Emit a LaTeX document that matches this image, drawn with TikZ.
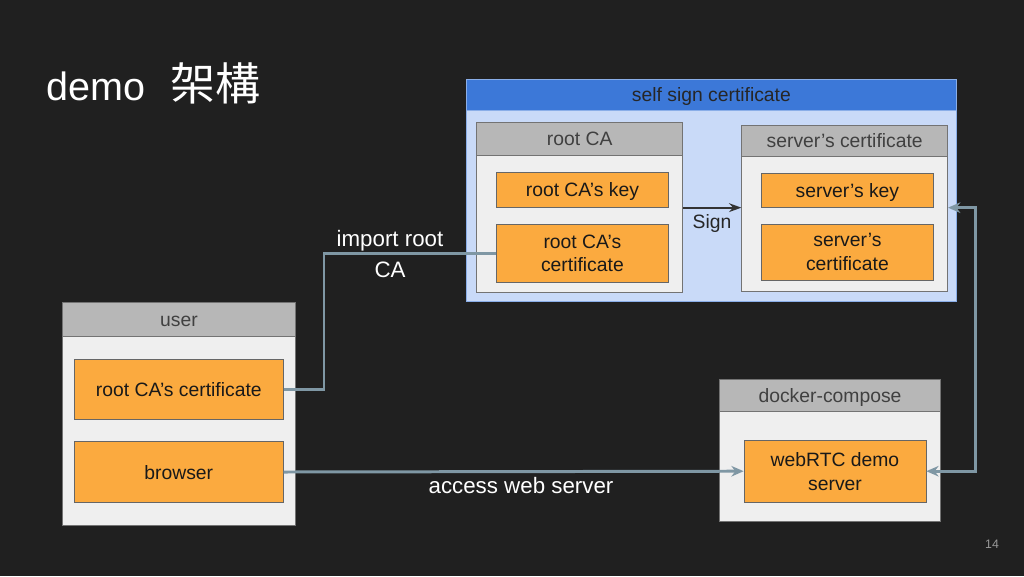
\documentclass[tikz,border=0pt]{standalone}
\usepackage{fontspec}
\setmainfont{Liberation Sans}
\newfontfamily\cjk{Noto Sans CJK TC}
\usetikzlibrary{arrows.meta}
\definecolor{bgdark}{HTML}{202020}
\definecolor{signblue}{HTML}{3C78D8}
\definecolor{signlight}{HTML}{C9DAF8}
\definecolor{headgray}{HTML}{B7B7B7}
\definecolor{panelgray}{HTML}{EFEFEF}
\definecolor{itemorange}{HTML}{FBAA3F}
\definecolor{linkgray}{HTML}{7F97A4}

\begin{document}
\begin{tikzpicture}[x=0.02cm, y=-0.02cm,
    panel/.style ={rectangle, draw=black!55, fill=panelgray, inner sep=0pt},
    heading/.style ={rectangle, draw=black!55, fill=headgray, text=black!75, font=\fontsize{11}{13}\selectfont, inner sep=0pt, oneline},
    item/.style ={rectangle, draw=black!60, fill=itemorange, text=black!90, align=center, font=\fontsize{11}{13.6}\selectfont, inner sep=0pt},
    oneline/.style ={text height=8pt, text depth=0pt},
    link/.style ={draw=linkgray, line width=1.7pt},
    caption/.style ={text=white, align=center, font=\fontsize{12.7}{17.6}\selectfont}]
   \fill[bgdark] (0,0) rectangle (1024,576);
   \useasboundingbox (0,0) rectangle (1024,576);

   \node[text=white, anchor=base west, inner sep=0pt, font=\fontsize{22.5}{26}\selectfont] (title) at (46,100.5) {demo\hspace{14.5pt}{\cjk\fontsize{25.6}{28}\selectfont 架構}};

   \node[panel, fill=signlight, draw=signblue!60, minimum width=9.81cm, minimum height=4.45cm] (selfsign) at (711.4,190.4) {};
   \node[heading, fill=signblue, draw=signblue!60, text=black!85, minimum width=9.81cm, minimum height=0.63cm] (selfsignhead) at (711.4,94.9) {self sign certificate};

   \node[panel, minimum width=4.12cm, minimum height=3.39cm] (rootca) at (579.7,207.5) {};
   \node[heading, minimum width=4.12cm, minimum height=0.65cm] (rootcahead) at (579.7,138.9) {root CA};
   \node[item, oneline, minimum width=3.45cm, minimum height=0.70cm] (rootkey) at (582.4,189.8) {root CA’s key};
   \node[item, minimum width=3.45cm, minimum height=1.16cm] (rootcert) at (582.4,253.3) {root CA’s\\certificate};

   \node[panel, minimum width=4.12cm, minimum height=3.32cm] (servercert) at (844.7,208) {};
   \node[heading, minimum width=4.12cm, minimum height=0.63cm] (servercerthead) at (844.7,140.9) {server’s certificate};
   \node[item, oneline, minimum width=3.45cm, minimum height=0.68cm] (serverkey) at (847.4,190.3) {server’s key};
   \node[item, minimum width=3.45cm, minimum height=1.13cm] (servercrt) at (847.4,252.2) {server’s\\certificate};

   \node[panel, minimum width=4.65cm, minimum height=4.45cm] (user) at (178.9,413.7) {};
   \node[heading, minimum width=4.65cm, minimum height=0.69cm] (userhead) at (178.9,319.5) {user};
   \node[item, oneline, minimum width=4.18cm, minimum height=1.21cm] (usercert) at (178.8,389.2) {root CA’s certificate};
   \node[item, oneline, minimum width=4.18cm, minimum height=1.21cm] (browser) at (178.8,472) {browser};

   \node[panel, minimum width=4.43cm, minimum height=2.85cm] (docker) at (830,450.4) {};
   \node[heading, minimum width=4.43cm, minimum height=0.65cm] (dockerhead) at (830,395.4) {docker-compose};
   \node[item, minimum width=3.64cm, minimum height=1.25cm] (webrtc) at (835,471.2) {webRTC demo\\server};

   \coordinate (importbend) at (324,300);
   \coordinate (rightbend) at (975,300);

   \draw[link] (usercert.east) -| (importbend) |- (rootcert.west);
   \node[caption] (importlbl) at (390,254) {import root\\CA};

   \draw[draw=black!80, line width=1.1pt, -{Stealth[length=7pt, width=5pt]}] (rootca.east |- rootkey.south) -- (servercert.west |- rootkey.south);
   \node[text=black!85, font=\fontsize{11}{13}\selectfont] (signlbl) at (712,223) {Sign};

   \draw[link, {Stealth[length=7pt, width=6pt]}-{Stealth[length=7pt, width=6pt]}] (servercert.east |- serverkey.south) -| (rightbend) |- (webrtc.east);

   \draw[link, -{Stealth[length=7pt, width=6pt]}] (browser.east) -- (webrtc.west);
   \node[caption] (accesslbl) at (521,486) {access web server};

   \node[text=black!40, font=\fontsize{7}{8}\selectfont] (pagenum) at (992,544) {14};
 \end{tikzpicture}
\end{document}
